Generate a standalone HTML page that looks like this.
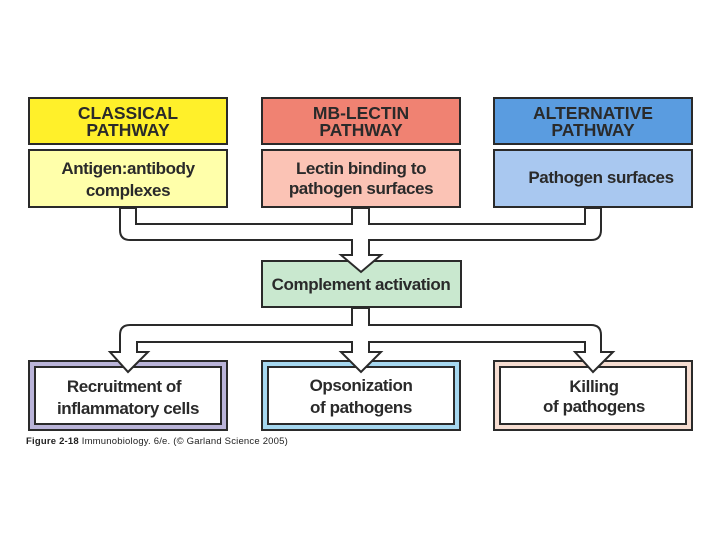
<!DOCTYPE html>
<html><head><meta charset="utf-8"><style>
html,body{margin:0;padding:0;background:#fff;width:720px;height:540px;overflow:hidden}
svg{display:block}
.h{font-family:"Liberation Sans",sans-serif;font-weight:bold;font-size:17.5px;fill:#2a2a2a;text-anchor:middle}
.b{font-family:"Liberation Sans",sans-serif;font-weight:bold;font-size:17px;fill:#2a2a2a;text-anchor:middle;letter-spacing:-0.4px}
</style></head><body>
<svg width="720" height="540" viewBox="0 0 720 540" xmlns="http://www.w3.org/2000/svg">
<g stroke="#2a2a2a" stroke-width="2">
<rect x="29" y="98" width="198" height="46" fill="#fff02a"/>
<rect x="29" y="150" width="198" height="57" fill="#ffffaa"/>
<rect x="262" y="98" width="198" height="46" fill="#f08272"/>
<rect x="262" y="150" width="198" height="57" fill="#fbc3b5"/>
<rect x="494" y="98" width="198" height="46" fill="#5a9ce0"/>
<rect x="494" y="150" width="198" height="57" fill="#a9c8f0"/>
<rect x="262" y="261" width="199" height="46" fill="#c9e8cf"/>
<rect x="29" y="361" width="198" height="69" fill="#bab4d9"/>
<rect x="35" y="367" width="186" height="57" fill="#fff"/>
<rect x="262" y="361" width="198" height="69" fill="#a6d8f0"/>
<rect x="268" y="367" width="186" height="57" fill="#fff"/>
<rect x="494" y="361" width="198" height="69" fill="#f6ddd1"/>
<rect x="500" y="367" width="186" height="57" fill="#fff"/>
</g>
<g fill="#fff" stroke="#2a2a2a" stroke-width="2" stroke-linejoin="miter">
<path d="M120,208 L120,230 Q120,240 130,240 L352,240 L352,255 L341,255 L361,272 L381,255 L369,255 L369,240 L591,240 Q601,240 601,230 L601,208 L585,208 L585,224 L369,224 L369,208 L352,208 L352,224 L136,224 L136,208 Z"/>
<path d="M352,308 L352,325 L130,325 Q120,325 120,335 L120,352 L110,352 L128,372 L148,352 L137,352 L137,342 L352,342 L352,352 L341,352 L361,372 L381,352 L369,352 L369,342 L585,342 L585,352 L575,352 L593,372 L613,352 L601,352 L601,335 Q601,325 591,325 L369,325 L369,308 Z"/>
</g>
<text class="h" x="128" y="119">CLASSICAL</text>
<text class="h" x="128" y="136">PATHWAY</text>
<text class="h" x="361" y="119">MB-LECTIN</text>
<text class="h" x="361" y="136">PATHWAY</text>
<text class="h" x="593" y="119">ALTERNATIVE</text>
<text class="h" x="593" y="136">PATHWAY</text>
<text class="b" x="128" y="174">Antigen:antibody</text>
<text class="b" x="128" y="196">complexes</text>
<text class="b" x="361" y="174">Lectin binding to</text>
<text class="b" x="361" y="194">pathogen surfaces</text>
<text class="b" x="601" y="183">Pathogen surfaces</text>
<text class="b" x="361" y="290">Complement activation</text>
<text class="b" x="124" y="392">Recruitment of</text>
<text class="b" x="128" y="414">inflammatory cells</text>
<text class="b" x="361" y="391">Opsonization</text>
<text class="b" x="361" y="413">of pathogens</text>
<text class="b" x="594" y="392">Killing</text>
<text class="b" x="594" y="412">of pathogens</text>
<text x="26" y="444" font-family="Liberation Sans,sans-serif" font-size="9.5" font-weight="bold" fill="#222" letter-spacing="0.2">Figure 2-18 <tspan font-weight="normal">Immunobiology. 6/e. (© Garland Science 2005)</tspan></text>
</svg>
</body></html>
